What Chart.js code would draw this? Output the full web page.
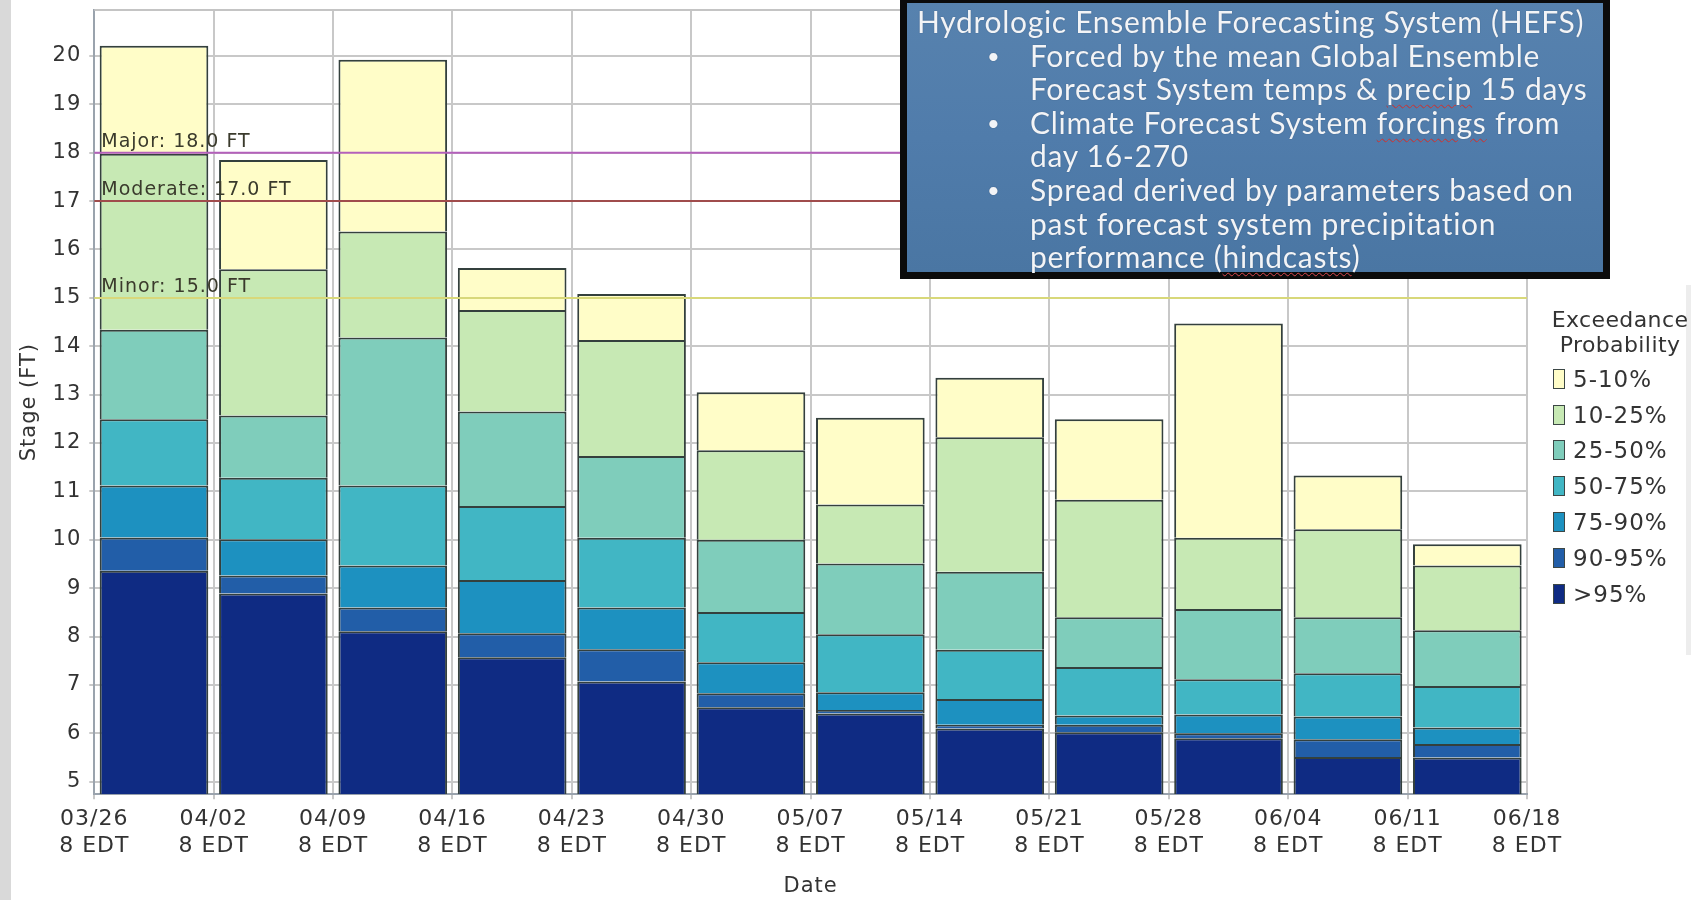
<!DOCTYPE html>
<html>
<head>
<meta charset="utf-8">
<script src="https://cdn.jsdelivr.net/npm/chart.js@4.4.1/dist/chart.umd.min.js"></script>
<style>
  html, body { margin: 0; padding: 0; background: #fff; }
  #wrap { position: relative; width: 1691px; height: 900px; overflow: hidden; font-family: "DejaVu Sans", sans-serif; }
  #strip { position: absolute; left: 0; top: 0; width: 11px; height: 900px; background: #d9d9d9; }
  #edge { position: absolute; left: 1686px; top: 285px; width: 5px; height: 370px; background: #ededed; }
  #plots { position: absolute; left: 0; top: 0; }
  #legend { position: absolute; left: 1545px; top: 307px; width: 146px; color: #333; font-size: 22px; }
  #legend .ttl { text-align: center; line-height: 25px; padding-left: 4px; letter-spacing: 0.4px; margin-bottom: 4px; }
  #legend .row { height: 35.8px; display: flex; align-items: center; margin-left: 8px; font-size: 23px; letter-spacing: 1px; }
  #legend .sw { width: 10px; height: 18px; border: 1.5px solid #3c4745; margin-right: 8px; }
  #hefs { position: absolute; left: 900px; top: -4px; width: 710px; height: 283px; box-sizing: border-box;
          border: 7px solid #0b0b0b; background: linear-gradient(180deg, #5782ae 0%, #507cab 50%, #4a76a3 100%);
          font-family: Lato, "Open Sans", sans-serif; font-size: 30px; line-height: 33.6px; color: #f2f4f7;
          letter-spacing: 0.7px; text-shadow: 0 0 1px rgba(30,50,80,0.6); padding: 2px 0 0 10px; white-space: nowrap; }
  #hefs .ln { position: relative; padding-left: 113px; }
  #hefs .ln.t { padding-left: 0; }
  #hefs .dot { position: absolute; left: 70px; font-size: 22px; }
  #hefs u { text-decoration: underline wavy #d94040; text-decoration-thickness: 1px; text-underline-offset: 4px; }
</style>
</head>
<body>
<div id="wrap">
  <div id="strip"></div>
  <canvas id="plots" width="1691" height="900"></canvas>
  <div id="edge"></div>
  <div id="hefs">
    <div class="ln t">Hydrologic Ensemble Forecasting System (HEFS)</div>
    <div class="ln"><span class="dot">•</span>Forced by the mean Global Ensemble</div>
    <div class="ln">Forecast System temps &amp; <u>precip</u> 15 days</div>
    <div class="ln"><span class="dot">•</span>Climate Forecast System <u>forcings</u> from</div>
    <div class="ln">day 16-270</div>
    <div class="ln"><span class="dot">•</span>Spread derived by parameters based on</div>
    <div class="ln">past forecast system precipitation</div>
    <div class="ln">performance (<u>hindcasts</u>)</div>
  </div>
  <div id="legend"></div>
</div>
<script>
// week boundaries on the x axis (13 ticks, 12 weekly bars)
const weekLabels = ['03/26', '04/02', '04/09', '04/16', '04/23', '04/30', '05/07',
                    '05/14', '05/21', '05/28', '06/04', '06/11', '06/18'];
const timeLabel = '8 EDT';

// stage (FT) at the top of each exceedance band, per weekly bar
const top5  = [20.21, 17.85, 19.92, 15.62, 15.08, 13.05, 12.52, 13.35, 12.49, 14.47, 11.33, 9.91];
const top10 = [17.98, 15.59, 16.37, 14.75, 14.13, 11.85, 10.73, 12.12, 10.83, 10.04, 10.22, 9.47];
const top25 = [14.34, 12.57, 14.18, 12.65, 11.73, 10.00, 9.51, 9.34, 8.40, 8.57, 8.40, 8.13];
const top50 = [12.49, 11.28, 11.12, 10.70, 10.04, 8.51, 8.05, 7.73, 7.37, 7.12, 7.24, 6.98];
const top75 = [11.12, 10.01, 9.47, 9.17, 8.60, 7.47, 6.85, 6.71, 6.37, 6.39, 6.35, 6.12];
const top90 = [10.05, 9.26, 8.60, 8.07, 7.74, 6.83, 6.48, 6.18, 6.18, 6.00, 5.88, 5.78];
const top95 = [9.36, 8.89, 8.11, 7.57, 7.07, 6.54, 6.41, 6.10, 6.02, 5.90, 5.51, 5.50];

const bandNames  = ['5-10%', '10-25%', '25-50%', '50-75%', '75-90%', '90-95%', '>95%'];
const bandColors = ['#fffdc8', '#c7e9b4', '#7fcdbb', '#41b6c4', '#1d91c0', '#225ea8', '#0f2b83'];

const yMin = 4.74;
const yMax = 20.95;
const yTicks = [5, 6, 7, 8, 9, 10, 11, 12, 13, 14, 15, 16, 17, 18, 19, 20];

const floodNames  = ['Major', 'Moderate', 'Minor'];
const floodLevels = [18.0, 17.0, 15.0];
const floodColors = ['#b460bb', '#a04c4c', '#d8d87a'];

const textColor = '#333';

const uppers = [top5, top10, top25, top50, top75, top90, top95];
const lowers = [top10, top25, top50, top75, top90, top95, top95.map(() => yMin)];

const datasets = bandNames.map((name, b) => ({
  label: name,
  data: uppers[b].map((hi, i) => ({ x: i + 0.5, y: [lowers[b][i], hi] })),
  backgroundColor: bandColors[b],
  borderColor: '#34403d',
  borderWidth: 2,
  grouped: false,
  barPercentage: 0.91,
  categoryPercentage: 1
}));

const floodPlugin = {
  id: 'flood',
  beforeDraw(chart) {
    chart.ctx.letterSpacing = '1px';
  },
  beforeDatasetsDraw(chart) {
    const { ctx, chartArea: a } = chart;
    ctx.save();
    ctx.strokeStyle = '#c4c4c4';
    ctx.lineWidth = 2;
    ctx.beginPath();
    ctx.moveTo(a.left, a.top);
    ctx.lineTo(a.right, a.top);
    ctx.stroke();
    ctx.restore();
  },
  afterDatasetsDraw(chart) {
    const { ctx, chartArea: a, scales: { y } } = chart;
    ctx.save();
    floodLevels.forEach((lv, k) => {
      const py = y.getPixelForValue(lv);
      ctx.strokeStyle = floodColors[k];
      ctx.lineWidth = 2;
      ctx.beginPath();
      ctx.moveTo(a.left, py);
      ctx.lineTo(a.right, py);
      ctx.stroke();
    });
    ctx.fillStyle = '#3a3a2c';
    ctx.font = '19px "DejaVu Sans"';
    ctx.letterSpacing = '1px';
    ctx.textBaseline = 'alphabetic';
    floodLevels.forEach((lv, k) => {
      const py = y.getPixelForValue(lv);
      ctx.fillText(floodNames[k] + ': ' + lv.toFixed(1) + ' FT', a.left + 7, py - 6);
    });
    ctx.restore();
  }
};

new Chart(document.getElementById('plots'), {
  type: 'bar',
  data: { datasets },
  options: {
    responsive: false,
    animation: false,
    devicePixelRatio: 1,
    layout: { padding: { top: 10, right: 164, left: 0, bottom: 0 } },
    plugins: { legend: { display: false }, tooltip: { enabled: false } },
    scales: {
      x: {
        type: 'linear',
        min: 0,
        max: 12,
        offset: false,
        afterBuildTicks: ax => { ax.ticks = weekLabels.map((_, i) => ({ value: i })); },
        afterFit: ax => { ax.height = 105.7; ax.paddingLeft = 0; ax.paddingRight = 0; },
        ticks: {
          autoSkip: false, maxRotation: 0, padding: 6, color: textColor,
          font: { family: 'DejaVu Sans', size: 22, lineHeight: 1.23 },
          callback: v => [weekLabels[v], timeLabel]
        },
        grid: { color: '#c8c8c8', lineWidth: 2, tickLength: 5, offset: false },
        border: { color: '#9aa3ad', width: 2 },
        title: { display: true, text: 'Date', color: textColor,
                 font: { family: 'DejaVu Sans', size: 21, lineHeight: 1.2 }, padding: { top: 0, bottom: 1 } }
      },
      y: {
        min: yMin,
        max: yMax,
        afterBuildTicks: ax => { ax.ticks = yTicks.map(v => ({ value: v })); },
        afterFit: ax => { ax.width = 94.3; ax.paddingTop = 0; ax.paddingBottom = 0; },
        ticks: { padding: 8, color: textColor, font: { family: 'DejaVu Sans', size: 21, lineHeight: 1.2 } },
        grid: { color: '#c8c8c8', lineWidth: 2, tickLength: 5 },
        border: { color: '#9aa3ad', width: 2 },
        title: { display: true, text: 'Stage (FT)', color: textColor,
                 font: { family: 'DejaVu Sans', size: 21, lineHeight: 1.2 }, padding: { top: 17, bottom: 0 } }
      }
    }
  },
  plugins: [floodPlugin]
});

// legend built from the band names and colours
const legend = document.getElementById('legend');
legend.innerHTML = '<div class="ttl">Exceedance<br>Probability</div>' +
  bandNames.map((n, b) =>
    '<div class="row"><span class="sw" style="background:' + bandColors[b] + '"></span><span>' +
    n.replace('>', '&gt;') + '</span></div>').join('');
</script>
</body>
</html>
